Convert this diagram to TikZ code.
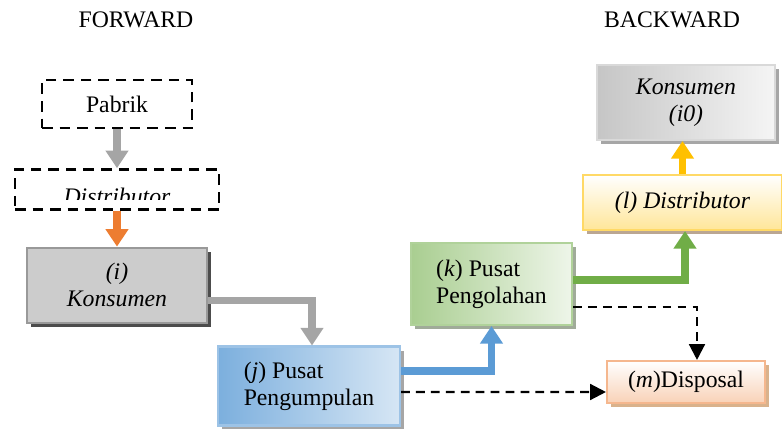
\documentclass[tikz,border=0pt]{standalone}
\usepackage{fontspec}
\setmainfont{Liberation Serif}
\usetikzlibrary{arrows.meta,positioning,shadows}

\definecolor{arrgray}{HTML}{A5A5A5}
\definecolor{arrorange}{HTML}{ED7D31}
\definecolor{arrblue}{HTML}{5B9BD5}
\definecolor{arrgreen}{HTML}{70AD47}
\definecolor{arryellow}{HTML}{FFC000}

\begin{document}
\begin{tikzpicture}[x=0.02cm,y=-0.02cm,
  font=\fontsize{13.5}{15.5}\selectfont,
  dashrect/.style={draw,dash pattern=on 6pt off 4pt,line width=1.4pt,rectangle},
  myrect/.style={draw,rectangle,line width=1.2pt,align=center},
  fatarrow/.style={line width=4pt,-{Triangle[width=12.5pt,length=10pt]}},
  dasharrow/.style={line width=1.3pt,dash pattern=on 5pt off 3.5pt,
    -{Triangle[width=9pt,length=9pt]}}]

  \useasboundingbox (0,0) rectangle (782,430);

  \node (forward) at (136,20) {FORWARD};
  \node (backward) at (672,20) {BACKWARD};

  \node[dashrect,minimum width=3cm,minimum height=0.96cm] (pabrik) at (117,104) {Pabrik};
  \node[dashrect,minimum width=4.08cm,minimum height=0.8cm] (dist) [below=0.78cm of pabrik] {};
  \begin{scope}
    \clip (dist.north west) rectangle ([yshift=0.22cm]dist.south east);
    \node[anchor=base] (tdist) at ([yshift=0.13cm]dist.south) {\itshape Distributor};
  \end{scope}

  \node[myrect,minimum width=3.6cm,minimum height=1.5cm,draw=gray!80,
    top color=gray!40,middle color=gray!75,bottom color=gray!40,
    drop shadow={shadow xshift=0.08cm,shadow yshift=-0.08cm,fill=black!70,opacity=1}]
    (ki) [below=0.72cm of dist] {\itshape (i)\\\itshape Konsumen};

  \node[myrect,minimum width=3.64cm,minimum height=1.58cm,align=left,draw=arrblue!60,
    shading angle=135,left color=arrblue!80,right color=arrblue!25,
    drop shadow={shadow xshift=0.08cm,shadow yshift=-0.08cm,fill=black!35,opacity=1}]
    (kj) at (309,386) {(\textit{j}) Pusat\\Pengumpulan};

  \node[myrect,minimum width=3.22cm,minimum height=1.64cm,align=left,draw=arrgreen!55,
    shading angle=135,left color=arrgreen!60,right color=arrgreen!12,
    drop shadow={shadow xshift=0.08cm,shadow yshift=-0.08cm,fill=arrgreen!40!black!45,opacity=1}]
    (kk) at (491.5,284) {(\textit{k}) Pusat\\Pengolahan};

  \node[myrect,minimum width=3.16cm,minimum height=0.84cm,draw=arrorange!55,
    top color=white,bottom color=arrorange!35,
    drop shadow={shadow xshift=0.08cm,shadow yshift=-0.08cm,fill=brown!60,opacity=1}]
    (km) at (686,382) {(\textit{m})Disposal};

  \node[myrect,minimum width=3.98cm,minimum height=1.1cm,draw=arryellow!60,
    top color=white,bottom color=arryellow!40,
    drop shadow={shadow xshift=0.08cm,shadow yshift=-0.08cm,fill=brown!45!gray!70,opacity=1}]
    (kl) at (682.5,202.5) {\itshape (l) Distributor};

  \node[myrect,minimum width=3.56cm,minimum height=1.5cm,draw=gray!30,
    shading angle=135,left color=gray!45,right color=gray!8,
    drop shadow={shadow xshift=0.08cm,shadow yshift=-0.08cm,fill=gray!70,opacity=1}]
    (ki0) at (686,102.5) {\itshape Konsumen\\\itshape (i0)};

  \draw[fatarrow,arrgray] (pabrik) -- (dist);
  \draw[fatarrow,arrorange] (dist) -- (ki);
  \draw[fatarrow,arrgray] ([yshift=-0.3cm]ki.east) -| ([xshift=0.06cm]kj.north);
  \draw[fatarrow,arrblue] ([yshift=0.3cm]kj.east) -| (kk.south);
  \draw[fatarrow,arrgreen] ([yshift=0.08cm]kk.east) -| ([xshift=0.05cm]kl.south);
  \draw[fatarrow,arryellow] (kl.north) -- (kl.north |- ki0.south);
  \draw[dasharrow] ([yshift=-0.12cm]kj.east) -- ([yshift=-0.2cm]km.west);
  \draw[dasharrow] ([yshift=-0.46cm]kk.east) -| ([xshift=0.22cm]km.north);
\end{tikzpicture}
\end{document}
